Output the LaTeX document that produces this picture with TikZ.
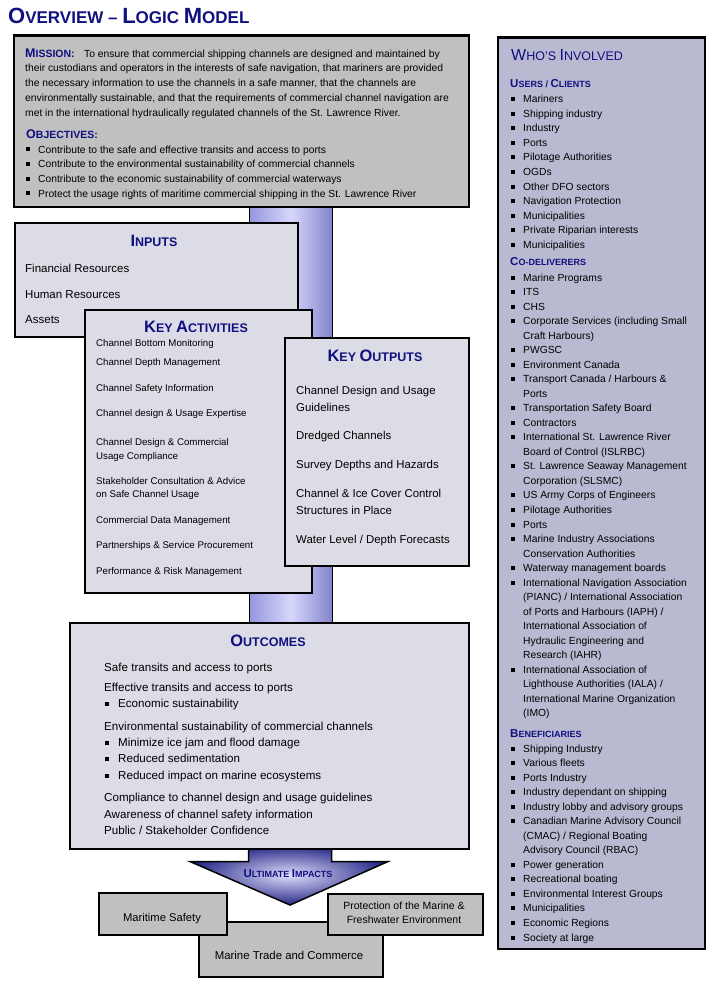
\documentclass[tikz,border=0pt]{standalone}
\usepackage{fontspec}
\setmainfont{Liberation Sans}
\usetikzlibrary{positioning}

\definecolor{navy}{RGB}{16,16,128}
\definecolor{misfill}{RGB}{192,192,192}
\definecolor{panelfill}{RGB}{220,220,230}
\definecolor{whofill}{RGB}{185,185,210}
\definecolor{barleft}{RGB}{150,150,222}
\definecolor{barmid}{RGB}{214,214,252}
\definecolor{barright}{RGB}{132,132,205}
\definecolor{arrowin}{RGB}{222,222,252}
\definecolor{arrowout}{RGB}{40,40,135}

% fake small caps: big first letter, smaller rest
\newcommand{\sck}[2]{{\fontsize{\scbig}{\scbig}\selectfont #1}{\fontsize{\scsmall}{\scsmall}\selectfont #2}}

\begin{document}
\begin{tikzpicture}[x=1pt,y=-1pt,
    box/.style={rectangle,draw=black,line width=2.6pt,anchor=north west,inner sep=0pt},
    panel/.style={box,fill=panelfill},
    greybox/.style={box,fill=misfill},
    ttl/.style={anchor=base,inner sep=0pt,text=navy,font=\bfseries\def\scbig{16.5}\def\scsmall{12.5}\fontsize{12.5}{14}\selectfont},
    sub/.style={anchor=base west,inner sep=0pt,text=navy,font=\bfseries\def\scbig{11.5}\def\scsmall{9}\fontsize{9}{11}\selectfont},
    txt/.style={anchor=base west,inner sep=0pt,font=\fontsize{10.3}{12}\selectfont},
    bul/.style={rectangle,fill=black,minimum size=4pt,inner sep=0pt}]

\useasboundingbox (0,0) rectangle (718,990);

% Title
\node[anchor=base west,inner sep=0pt,text=navy,font=\bfseries\def\scbig{22}\def\scsmall{17}\fontsize{17}{20}\selectfont] (title) at (8,24) {\sck{O}{VERVIEW} -- \sck{L}{OGIC} \sck{M}{ODEL}};

% Pipe behind the boxes
\node[draw=black,line width=1.5pt,anchor=north west,minimum width=83pt,minimum height=425pt,left color=barleft,right color=barright,middle color=barmid] (pipe) at (248.5,200) {};

% Mission
\node[greybox,minimum width=455pt,minimum height=171pt] (mission) at (12.5,34.5) {};
\node[anchor=base west,inner sep=0pt,text=navy,font=\bfseries\def\scbig{12.5}\def\scsmall{10.5}\fontsize{10.5}{12}\selectfont] (misttl) at (25,57) {\sck{M}{ISSION:}};
\node[txt] (m0) at (84,57) {To ensure that commercial shipping channels are designed and maintained by};
\foreach \txt [count=\i] in {{their custodians and operators in the interests of safe navigation, that mariners are provided},
    {the necessary information to use the channels in a safe manner, that the channels are},
    {environmentally sustainable, and that the requirements of commercial channel navigation are},
    {met in the international hydraulically regulated channels of the St. Lawrence River.}}
  \node[txt] (m\i) at (25,57+14.8*\i) {\txt};
\node[anchor=base west,inner sep=0pt,text=navy,font=\bfseries\def\scbig{12.5}\def\scsmall{10.5}\fontsize{10.5}{12}\selectfont] (objttl) at (26,138) {\sck{O}{BJECTIVES:}};
\foreach \txt [count=\i from 0] in {Contribute to the safe and effective transits and access to ports,
    Contribute to the environmental sustainability of commercial channels,
    Contribute to the economic sustainability of commercial waterways,
    Protect the usage rights of maritime commercial shipping in the St. Lawrence River}{
  \node[txt] (o\i) at (38,153+14.7*\i) {\txt};
  \node[bul] (ob\i) at (28,149.3+14.7*\i) {};
}

% Inputs
\node[panel,minimum width=283pt,minimum height=114pt] (inputs) at (13.5,221.5) {};
\node[ttl] (inttl) at (154,246) {\sck{I}{NPUTS}};
\foreach \y/\txt [count=\i] in {272/Financial Resources,298/Human Resources,323/Assets}
  \node[txt,font=\fontsize{11.5}{13}\selectfont] (in\i) at (25,\y) {\txt};

% Key activities
\node[panel,minimum width=227pt,minimum height=283pt] (act) at (83.5,308.5) {};
\node[ttl] (actttl) at (196,332) {\sck{K}{EY} \sck{A}{CTIVITIES}};
\foreach \y/\txt [count=\i] in {346.5/Channel Bottom Monitoring,365.5/Channel Depth Management,
    391.5/Channel Safety Information,416.5/Channel design \& Usage Expertise,
    445.5/Channel Design \& Commercial,459.5/Usage Compliance,
    484.5/Stakeholder Consultation \& Advice,497.5/on Safe Channel Usage,
    523.5/Commercial Data Management,548.5/Partnerships \& Service Procurement,
    574.5/Performance \& Risk Management}
  \node[txt,font=\fontsize{9.7}{11}\selectfont] (a\i) at (96,\y) {\txt};

% Key outputs
\node[panel,minimum width=184pt,minimum height=228pt] (out) at (283.5,336.5) {};
\node[ttl] (outttl) at (375,361) {\sck{K}{EY} \sck{O}{UTPUTS}};
\foreach \y/\txt [count=\i] in {394/Channel Design and Usage,411/Guidelines,439/Dredged Channels,
    468/Survey Depths and Hazards,497/Channel \& Ice Cover Control,514/Structures in Place,
    543/{Water Level / Depth Forecasts}}
  \node[txt,font=\fontsize{11.4}{13}\selectfont] (k\i) at (296,\y) {\txt};

% Ultimate impacts arrow
\draw[line width=1.5pt,inner color=arrowin,outer color=arrowout] (248.5,845) -- (248.5,861.5) -- (190,861.5)
  -- (290,905) -- (388,861.5) -- (331.5,861.5) -- (331.5,845) -- cycle;
\node[anchor=base,inner sep=0pt,text=navy,font=\bfseries\def\scbig{11.5}\def\scsmall{9}\fontsize{9}{11}\selectfont] (impttl) at (288,877) {\sck{U}{LTIMATE} \sck{I}{MPACTS}};

% Outcomes
\node[panel,minimum width=399pt,minimum height=226pt] (outc) at (68.5,621.5) {};
\node[ttl] (outcttl) at (268,646) {\sck{O}{UTCOMES}};
\foreach \x/\y/\txt [count=\i] in {104/671.5/Safe transits and access to ports,
    104/691.5/Effective transits and access to ports,118/707.5/Economic sustainability,
    104/730.5/Environmental sustainability of commercial channels,
    118/746.5/Minimize ice jam and flood damage,118/762.5/Reduced sedimentation,
    118/779.5/Reduced impact on marine ecosystems,
    104/801.5/Compliance to channel design and usage guidelines,
    104/818.5/Awareness of channel safety information,104/834.5/{Public / Stakeholder Confidence}}
  \node[txt,font=\fontsize{11.6}{13}\selectfont] (c\i) at (\x,\y) {\txt};
\foreach \y [count=\i] in {707.5,746.5,762.5,779.5}
  \node[bul] (cb\i) at (107,\y-4) {};

% Impacts
\node[greybox,minimum width=184pt,minimum height=55pt] (trade) at (197.5,920.5) {};
\node[greybox,minimum width=128pt,minimum height=42pt] (safety) at (97.5,891.5) {};
\node[greybox,minimum width=155pt,minimum height=41pt] (envir) at (326.5,892.5) {};
\node[font=\fontsize{11.2}{13}\selectfont] (safetytxt) at (162,919) {Maritime Safety};
\node[font=\fontsize{10.5}{14}\selectfont,align=center] (envirtxt) at (404,913) {Protection of the Marine \&\\Freshwater Environment};
\node[font=\fontsize{11.4}{13}\selectfont] (tradetxt) at (289,955) {Marine Trade and Commerce};

% Who's involved
\node[box,fill=whofill,minimum width=207pt,minimum height=911pt] (who) at (496.5,36.5) {};
\node[anchor=base west,inner sep=0pt,text=navy,font=\def\scbig{16}\def\scsmall{12.5}\fontsize{12.5}{14}\selectfont] (whottl) at (511,61) {\sck{W}{HO'S} \sck{I}{NVOLVED}};

\node[sub] (users) at (510,88) {\sck{U}{SERS /} \sck{C}{LIENTS}};
\foreach \txt [count=\i from 0] in {Mariners,Shipping industry,Industry,Ports,Pilotage Authorities,OGDs,
    Other DFO sectors,Navigation Protection,Municipalities,Private Riparian interests,Municipalities}{
  \node[txt] (u\i) at (523,102.5+14.6*\i) {\txt};
  \node[bul] (ub\i) at (513,99+14.6*\i) {};
}

\node[sub] (codel) at (510,265) {\sck{C}{O-DELIVERERS}};
\foreach \b/\txt [count=\i from 0] in {1/Marine Programs,1/ITS,1/CHS,1/Corporate Services (including Small,
    0/Craft Harbours),1/PWGSC,1/Environment Canada,1/{Transport Canada / Harbours \&},0/Ports,
    1/Transportation Safety Board,1/Contractors,1/International St. Lawrence River,
    0/Board of Control (ISLRBC),1/St. Lawrence Seaway Management,0/Corporation (SLSMC),
    1/US Army Corps of Engineers,1/Pilotage Authorities,1/Ports,1/Marine Industry Associations,
    0/Conservation Authorities,1/Waterway management boards,1/International Navigation Association,
    0/{(PIANC) / International Association},0/{of Ports and Harbours (IAPH) /},
    0/International Association of,0/Hydraulic Engineering and,0/Research (IAHR),
    1/International Association of,0/{Lighthouse Authorities (IALA) /},
    0/International Marine Organization,0/(IMO)}{
  \node[txt] (d\i) at (523,281+14.53*\i) {\txt};
  \ifnum\b=1 \node[bul] (db\i) at (513,277.5+14.53*\i) {};\fi
}

\node[sub] (benef) at (510,737) {\sck{B}{ENEFICIARIES}};
\foreach \b/\txt [count=\i from 0] in {1/Shipping Industry,1/Various fleets,1/Ports Industry,
    1/Industry dependant on shipping,1/Industry lobby and advisory groups,
    1/Canadian Marine Advisory Council,0/{(CMAC) / Regional Boating},0/Advisory Council (RBAC),
    1/Power generation,1/Recreational boating,1/Environmental Interest Groups,1/Municipalities,
    1/Economic Regions,1/Society at large}{
  \node[txt] (e\i) at (523,752+14.54*\i) {\txt};
  \ifnum\b=1 \node[bul] (eb\i) at (513,748.5+14.54*\i) {};\fi
}

\end{tikzpicture}
\end{document}
